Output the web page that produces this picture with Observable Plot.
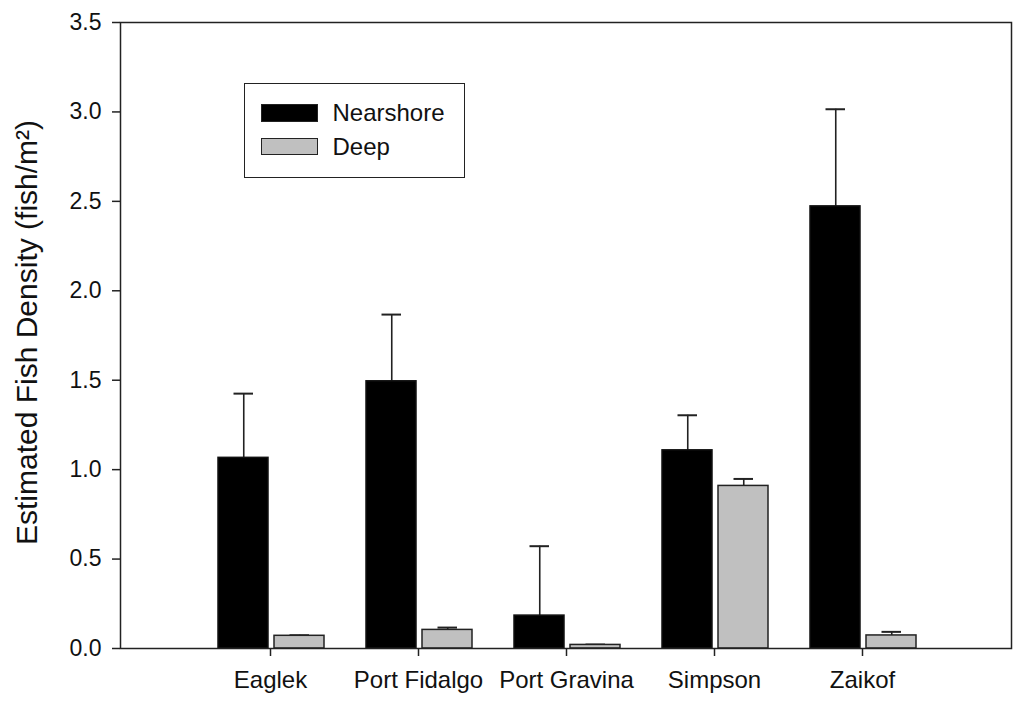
<!DOCTYPE html>
<html>
<head>
<meta charset="utf-8">
<script src="https://cdn.jsdelivr.net/npm/d3@7"></script>
<script src="https://cdn.jsdelivr.net/npm/@observablehq/plot@0.6"></script>
<style>
  html, body { margin: 0; padding: 0; background: #fff; }
  #wrap { position: relative; width: 1016px; height: 701px; font-family: "Liberation Sans", Arial, sans-serif; }
  #legend { position: absolute; left: 244px; top: 83px; width: 221px; height: 95px; border: 1.5px solid #222; background: #fff; box-sizing: border-box; }
  .item { position: absolute; left: 15.5px; display: flex; align-items: center; font-size: 24px; line-height: 28px; color: #111; }
  .sw { width: 57px; height: 18px; box-sizing: border-box; border: 1.5px solid #222; margin-right: 15px; }
</style>
</head>
<body>
<div id="wrap"></div>
<script>
const sites = ["Eaglek", "Port Fidalgo", "Port Gravina", "Simpson", "Zaikof"];
const nearshore = [1.066, 1.494, 0.184, 1.108, 2.472];
const nearshoreErr = [0.359, 0.373, 0.388, 0.196, 0.543];
const deep = [0.071, 0.104, 0.020, 0.909, 0.073];
const deepErr = [0.003, 0.013, 0.002, 0.039, 0.020];
const seriesNames = ["Nearshore", "Deep"];
const seriesColors = ["#000000", "#c0c0c0"];
const yTicks = [0, 0.5, 1.0, 1.5, 2.0, 2.5, 3.0, 3.5];
const yLabel = "Estimated Fish Density (fish/m²)";

const nearRows = sites.map((s, i) => ({site: s, value: nearshore[i], hi: nearshore[i] + nearshoreErr[i]}));
const deepRows = sites.map((s, i) => ({site: s, value: deep[i], hi: deep[i] + deepErr[i]}));

const chart = Plot.plot({
  width: 1016,
  height: 701,
  marginLeft: 120,
  marginRight: 5,
  marginTop: 22,
  marginBottom: 53,
  style: {fontFamily: "'Liberation Sans', Arial, sans-serif", color: "#111", background: "white", overflow: "visible"},
  x: {domain: sites, paddingInner: 0, paddingOuter: 0.5, align: 0.5, axis: null},
  y: {domain: [0, 3.5], axis: null},
  marks: [
    Plot.ruleX(nearRows, {x: "site", y1: "value", y2: "hi", dx: -26.75, stroke: "#222", strokeWidth: 1.6}),
    Plot.tickY(nearRows, {x: "site", y: "hi", insetLeft: 37.5, insetRight: 91, stroke: "#222", strokeWidth: 2}),
    Plot.ruleX(deepRows, {x: "site", y1: "value", y2: "hi", dx: 29.25, stroke: "#222", strokeWidth: 1.6}),
    Plot.tickY(deepRows, {x: "site", y: "hi", insetLeft: 93.5, insetRight: 35, stroke: "#222", strokeWidth: 2}),
    Plot.barY(nearRows, {x: "site", y: "value", fill: seriesColors[0], stroke: "#111", strokeWidth: 1.5, insetLeft: 22, insetRight: 76}),
    Plot.barY(deepRows, {x: "site", y: "value", fill: seriesColors[1], stroke: "#222", strokeWidth: 1.5, insetLeft: 78, insetRight: 20}),
    Plot.frame({stroke: "#222", strokeWidth: 1.5}),
    Plot.axisY({ticks: yTicks, tickFormat: d3.format(".1f"), tickSize: 8, tickPadding: 11, fontSize: 23, strokeWidth: 1.5, stroke: "#222", label: null}),
    Plot.axisX({tickSize: 8, tickPadding: 14, fontSize: 24, strokeWidth: 1.5, stroke: "#222", label: null}),
    Plot.text([yLabel], {frameAnchor: "left", textAnchor: "middle", lineAnchor: "middle", rotate: -90, dx: -93, dy: -3, fontSize: 30, fill: "#111"})
  ]
});

const wrap = document.getElementById("wrap");
wrap.appendChild(chart);

const legend = document.createElement("div");
legend.id = "legend";
seriesNames.forEach((name, i) => {
  const item = document.createElement("div");
  item.className = "item";
  item.style.top = (i === 0 ? 14.5 : 48.5) + "px";
  const sw = document.createElement("div");
  sw.className = "sw";
  sw.style.background = seriesColors[i];
  if (i === 1) sw.style.height = "17px";
  const label = document.createElement("span");
  label.textContent = name;
  item.appendChild(sw);
  item.appendChild(label);
  legend.appendChild(item);
});
wrap.appendChild(legend);
</script>
</body>
</html>
